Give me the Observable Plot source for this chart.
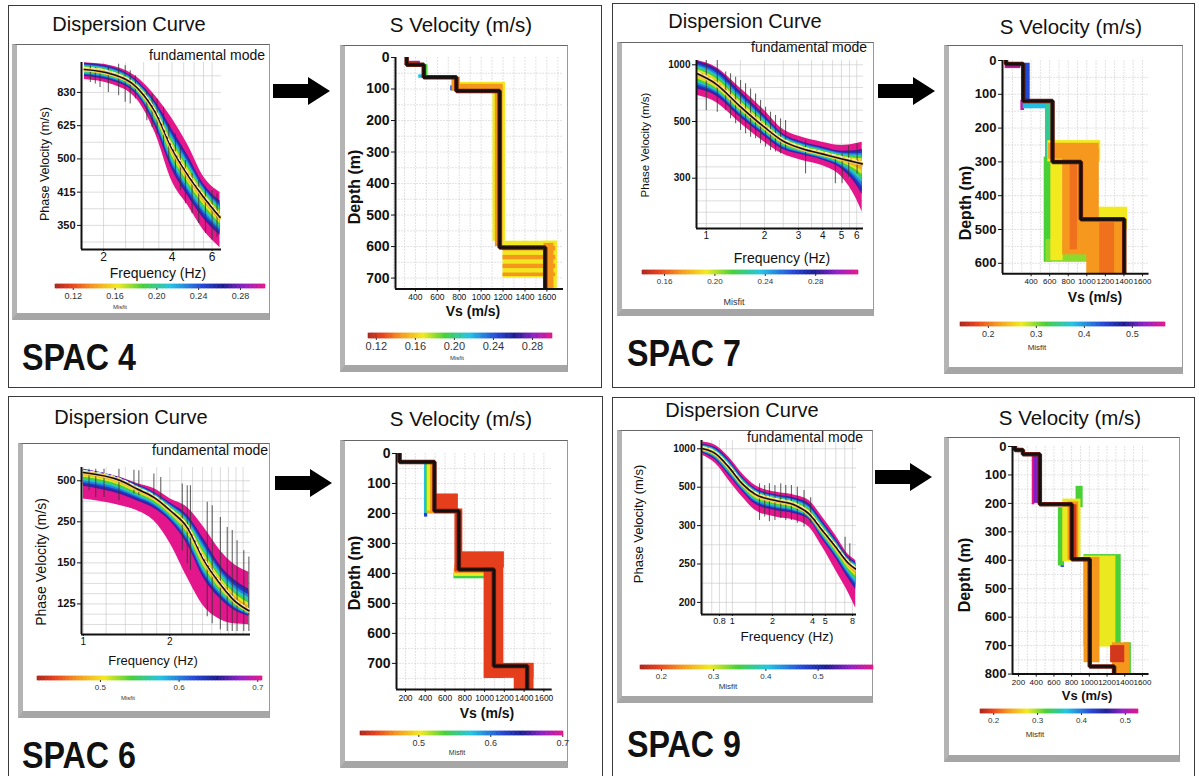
<!DOCTYPE html>
<html><head><meta charset="utf-8">
<script src="https://cdn.jsdelivr.net/npm/d3@7"></script>
<script src="https://cdn.jsdelivr.net/npm/@observablehq/plot@0.6"></script>
<style>
html,body{margin:0;padding:0;background:#fff;}
#root{position:relative;width:1199px;height:776px;overflow:hidden;background:#fff;font-family:"Liberation Sans",Arial,sans-serif;color:#111;}
.box{position:absolute;border:1px solid #3a3a3a;box-sizing:border-box;}
.card{position:absolute;box-sizing:border-box;background:#fff;border-top:1px solid #666;border-right:1px solid #999;border-left:5px solid #b4b4b4;border-bottom:7px solid #a6a6a6;}
.t{position:absolute;white-space:nowrap;line-height:1;}
.by g[aria-label="y-axis tick label"] text{font-weight:bold;}
</style></head>
<body><div id="root"></div>
<script>
// ===================== DATA =====================
// ---- SPAC 4 : dispersion (frequency Hz, phase velocity m/s) ----
const spac4Freq    = [1.65, 2.18, 2.8, 3.38, 4.0, 4.7, 5.5, 6.5];
const spac4Best    = [1082, 1020, 877, 694, 532, 455, 407, 370];
const spac4CoreHi  = [1185, 1125, 955, 770, 615, 515, 437, 402];
const spac4CoreLo  = [985, 935, 810, 615, 465, 405, 365, 340];
const spac4OuterHi = [1185, 1135, 985, 805, 660, 545, 452, 416];
const spac4OuterLo = [958, 905, 780, 590, 440, 390, 350, 326];
const spac4ErrFreq = [1.75,1.84,1.93,2.10,2.33,2.49,2.62,2.76,3.10,3.27,3.44,3.67,3.87,4.14,4.35,4.58,4.90,5.24,5.61,6.00,6.31];
const spac4ErrHi   = [1136,1111,1087,1111,1163,1136,1064,1000,847,820,781,725,633,588,538,495,459,442,427,420,413];
const spac4ErrLo   = [926,909,877,833,806,758,746,781,649,617,588,538,495,459,420,394,376,360,345,336,340];
const spac4PhaseTicks  = [1.2, 1.6, 2.0, 2.4, 2.8];          // slowness, ms/m
const spac4PhaseLabels = ["830", "625", "500", "415", "350"];
const spac4FreqTicks   = [2, 4, 6];
const spac4FreqLabels  = ["2", "4", "6"];
// ---- SPAC 4 : Vs profile ----
const spac4LayerTop = [0, 23, 63, 106, 603];
const spac4LayerVs  = [320, 476, 774, 1169, 1585];
// [Vs min, Vs max, top depth, bottom depth, misfit]
const spac4Blocks = [
  [330, 445, 12, 25, 0.29], [330, 420, 15, 25, 0.121],
  [470, 515, 23, 63, 0.19], [430, 480, 55, 66, 0.215],
  [722, 748, 90, 106, 0.24], [740, 775, 80, 106, 0.19],
  [780, 1222, 79, 106, 0.168], [734, 810, 63, 106, 0.146], [780, 1200, 85, 106, 0.146],
  [1108, 1222, 79, 583, 0.168], [1130, 1200, 90, 600, 0.146],
  [1200, 1695, 583, 700, 0.168],
  [1200, 1680, 600, 614, 0.146], [1200, 1680, 628, 642, 0.146], [1200, 1680, 656, 670, 0.146], [1200, 1680, 684, 695, 0.146],
  [1570, 1695, 583, 735, 0.168], [1575, 1665, 590, 735, 0.146]
];

// ---- SPAC 7 : dispersion ----
const spac7Freq    = [0.9, 1.12, 1.48, 2.0, 2.47, 3.13, 3.97, 5.03, 5.9, 6.4];
const spac7Best    = [863, 749, 582, 476, 428, 403, 389, 376, 368, 364];
const spac7CoreHi  = [1082, 960, 700, 535, 455, 425, 410, 398, 400, 405];
const spac7CoreLo  = [690, 640, 520, 440, 400, 385, 372, 350, 320, 300];
const spac7OuterHi = [1082, 960, 717, 554, 470, 439, 423, 413, 418, 423];
const spac7OuterLo = [649, 603, 497, 423, 389, 372, 360, 335, 300, 278];
const spac7ErrFreq = [1.0,1.14,1.26,1.335,1.418,1.504,1.596,1.694,1.798,1.908,2.025,2.149,2.28,2.42,2.57,3.26,4.65,5.04,5.45,6.02];
const spac7ErrHi   = [1118,1118,886,863,821,784,749,702,661,614,572,545,528,512,505,428,380,389,413,418];
const spac7ErrLo   = [554,545,554,512,490,463,451,439,434,418,408,398,394,389,398,342,323,323,335,342];
const spac7PhaseTicks  = [1, 2, 3];
const spac7PhaseLabels = ["1000", "500", "300"];
const spac7FreqTicks   = [1, 2, 3, 4, 5, 6];
const spac7FreqLabels  = ["1", "2", "3", "4", "5", "6"];
// ---- SPAC 7 : Vs profile ----
const spac7LayerTop = [0, 10, 120, 300, 470];
const spac7LayerVs  = [130, 315, 631, 936, 1403];
const spac7Blocks = [
  [120, 290, 12, 24, 0.55], [290, 330, 118, 148, 0.55],
  [315, 390, 8, 126, 0.44], [315, 640, 118, 143, 0.38],
  [555, 640, 120, 295, 0.35], [541, 630, 286, 597, 0.32],
  [560, 1060, 530, 597, 0.30],
  [580, 1150, 237, 300, 0.27], [613, 745, 280, 592, 0.27], [1130, 1440, 434, 500, 0.27],
  [590, 1133, 245, 292, 0.22], [740, 1135, 262, 575, 0.22], [1000, 1430, 470, 632, 0.22],
  [1140, 1300, 480, 632, 0.2], [820, 900, 300, 560, 0.2]
];

// ---- SPAC 6 : dispersion ----
const spac6Freq    = [1.0, 1.35, 1.54, 1.76, 2.01, 2.30, 2.63, 3.0, 3.34, 3.77];
const spac6Best    = [627, 500, 416, 356, 289, 234, 170, 142, 128, 120];
const spac6CoreHi  = [698, 540, 462, 395, 328, 276, 210, 165, 149, 139];
const spac6CoreLo  = [430, 366, 330, 296, 248, 194, 146, 128, 120, 116];
const spac6OuterHi = [698, 544, 470, 420, 346, 303, 234, 185, 165, 155];
const spac6OuterLo = [346, 311, 289, 253, 197, 149, 123, 114, 111.5, 111];
const spac6ErrFreq = [1.046,1.104,1.18,1.33,1.50,1.56,1.76,1.86,2.21,2.30,2.36,2.70,2.81,3.0,3.17,3.30,3.43,3.62,3.77];
const spac6ErrHi   = [698,698,698,698,675,660,597,544,463,446,446,328,311,264,234,226,203,185,175];
const spac6ErrLo   = [402,356,356,337,378,366,356,319,185,165,157,116,111.5,108,107,107,107,107,107];
const spac6PhaseTicks  = [2, 4, 6, 8];
const spac6PhaseLabels = ["500", "250", "150", "125"];
const spac6FreqTicks   = [1, 2];
const spac6FreqLabels  = ["1", "2"];
// ---- SPAC 6 : Vs profile ----
const spac6LayerTop = [0, 28, 192, 387, 709];
const spac6LayerVs  = [140, 493, 740, 1094, 1431];
const spac6Blocks = [
  [392, 425, 150, 212, 0.62], [392, 425, 28, 200, 0.575],
  [405, 450, 28, 198, 0.54], [690, 1000, 400, 418, 0.54],
  [420, 470, 28, 196, 0.505], [690, 1000, 385, 410, 0.505],
  [420, 740, 192, 202, 0.48],
  [455, 500, 28, 200, 0.47], [700, 1000, 370, 400, 0.47],
  [500, 735, 135, 200, 0.44], [700, 780, 185, 395, 0.44], [740, 1200, 328, 382, 0.44],
  [995, 1195, 330, 750, 0.44], [1010, 1500, 700, 750, 0.44], [1300, 1500, 700, 787, 0.44]
];

// ---- SPAC 9 : dispersion ----
const spac9Freq    = [0.60, 0.75, 0.94, 1.19, 1.49, 2.11, 2.99, 3.77, 4.75, 5.99, 7.55, 8.47];
const spac9Best    = [1000, 885, 677, 523, 457, 426, 404, 371, 320, 281, 250, 242];
const spac9CoreHi  = [1150, 1040, 790, 585, 495, 458, 440, 415, 350, 300, 262, 254];
const spac9CoreLo  = [890, 760, 585, 470, 405, 380, 368, 350, 296, 258, 225, 212];
const spac9OuterHi = [1211, 1095, 822, 606, 511, 470, 451, 426, 360, 307, 265, 256];
const spac9OuterLo = [852, 719, 548, 443, 384, 360, 349, 329, 281, 240, 209, 194];
const spac9ErrFreq = [1.60,1.75,1.90,2.09,2.31,2.52,2.78,3.08,3.46,3.88,7.04,7.64];
const spac9ErrHi   = [523,511,523,511,523,511,511,500,480,440,303,288];
const spac9ErrLo   = [349,360,345,349,355,349,349,340,329,340,256,250];
const spac9PhaseTicks  = [1, 2, 3, 4, 5];
const spac9PhaseLabels = ["1000", "500", "300", "250", "200"];
const spac9FreqTicks   = [0.8, 1, 2, 4, 5, 8];
const spac9FreqLabels  = ["0.8", "1", "2", "4", "5", "8"];
// ---- SPAC 9 : Vs profile ----
const spac9LayerTop = [0, 12, 27, 203, 396, 773];
const spac9LayerVs  = [160, 250, 441, 802, 1005, 1280];
const spac9Blocks = [
  [355, 385, 25, 205, 0.53], [375, 425, 25, 200, 0.49],
  [680, 720, 405, 425, 0.42],
  [650, 720, 215, 420, 0.32], [850, 930, 140, 215, 0.32], [940, 1360, 380, 700, 0.32], [1400, 1475, 690, 800, 0.32],
  [700, 905, 185, 405, 0.28], [940, 1300, 385, 705, 0.28],
  [760, 880, 195, 400, 0.235], [940, 1120, 390, 760, 0.235], [1260, 1460, 690, 800, 0.235],
  [790, 860, 205, 396, 0.19], [1240, 1400, 700, 760, 0.19]
];

// ---- colour bars (misfit) ----
const misfitTicksA = [0.12, 0.16, 0.20, 0.24, 0.28];
const misfitLabelsA = ["0.12", "0.16", "0.20", "0.24", "0.28"];
const misfitTicksB = [0.16, 0.20, 0.24, 0.28];
const misfitLabelsB = ["0.16", "0.20", "0.24", "0.28"];
const misfitTicksC = [0.2, 0.3, 0.4, 0.5];
const misfitLabelsC = ["0.2", "0.3", "0.4", "0.5"];
const misfitTicksD = [0.5, 0.6, 0.7];
const misfitLabelsD = ["0.5", "0.6", "0.7"];

// ===================== RENDER =====================
const FONT = '"Liberation Sans", Arial, sans-serif';
const root = document.getElementById("root");
const rainbowStops  = [0, 0.08, 0.18, 0.3, 0.42, 0.55, 0.7, 0.8, 0.9, 1];
const rainbowColors = ["#a8261c","#e8401c","#f5961d","#f2ea1f","#45cf38","#22c3e3","#2346d6","#1b1b8f","#8e1fc6","#e4168c"];
function misfitScale(lo, hi) {
  return {type: "linear", domain: rainbowStops.map(t => lo + t * (hi - lo)), range: rainbowColors, clamp: true};
}
function place(el, left, top) {
  el.style.position = "absolute"; el.style.left = left + "px"; el.style.top = top + "px";
  root.appendChild(el); return el;
}
function addDiv(cls, left, top, w, h) {
  const d = document.createElement("div"); d.className = cls;
  d.style.left = left + "px"; d.style.top = top + "px"; d.style.width = w + "px"; d.style.height = h + "px";
  root.appendChild(d);
}
function addText(txt, x, y, size, o = {}) {
  const d = document.createElement("div"); d.className = "t"; d.textContent = txt;
  d.style.left = x + "px"; d.style.top = y + "px"; d.style.fontSize = size + "px";
  const ax = o.anchor === "start" ? "0" : o.anchor === "end" ? "-100%" : "-50%";
  let tr = `translate(${ax},-50%)`;
  if (o.rotate) tr += ` rotate(${o.rotate}deg)`;
  if (o.sx) tr += ` scaleX(${o.sx})`;
  d.style.transform = tr;
  d.style.transformOrigin = o.anchor === "start" ? "left center" : "center center";
  if (o.bold) d.style.fontWeight = "bold";
  if (o.color) d.style.color = o.color;
  root.appendChild(d);
}
function arrow(x, y) {
  const d = document.createElement("div");
  d.innerHTML = '<svg width="58" height="30"><polygon points="0,8 35,8 35,1 57,15 35,29 35,22 0,22" fill="#000"/></svg>';
  place(d, x, y);
}

const BAND_LEVELS = [0.92, 0.8, 0.68, 0.56, 0.44, 0.32, 0.2, 0.09];
function dispersionPlot(c) {
  const [x0, y0, x1, y1] = c.frame;
  const mL = 44, mR = 6, mT = 4, mB = 20;
  const toS = v => 1000 / v;
  const rows = c.freq.map((f, i) => ({
    f, best: toS(c.best[i]), cHi: toS(c.coreHi[i]), cLo: toS(c.coreLo[i]),
    oHi: toS(c.outerHi[i]), oLo: toS(c.outerLo[i])
  }));
  const errs = c.errFreq.map((f, i) => ({f, s1: toS(c.errHi[i]), s2: toS(c.errLo[i])}));
  const [lo, hi] = c.misfit;
  const curve = "monotone-x";
  const bands = BAND_LEVELS.map(fr => Plot.areaY(rows, {
    x: "f",
    y1: d => d.best + fr * (d.cLo - d.best),
    y2: d => d.best + fr * (d.cHi - d.best),
    fill: () => lo + (0.04 + 0.86 * fr) * (hi - lo),
    curve, clip: true
  }));
  const svg = Plot.plot({
    width: x1 - x0 + mL + mR, height: y1 - y0 + mT + mB,
    marginLeft: mL, marginRight: mR, marginTop: mT, marginBottom: mB,
    className: "by",
    style: {fontFamily: FONT, background: "transparent", overflow: "visible", color: "#111"},
    x: {type: "log", domain: c.xDomain},
    y: {type: "linear", domain: [c.sBottom, c.sTop]},
    color: misfitScale(lo, hi),
    marks: [
      Plot.gridX({ticks: c.gridF, stroke: "#c4c4c4", strokeOpacity: 1, strokeWidth: 0.6}),
      Plot.gridY({ticks: c.gridS, stroke: "#c4c4c4", strokeOpacity: 1, strokeWidth: 0.6}),
      Plot.areaY(rows, {x: "f", y1: "oLo", y2: "oHi", fill: () => hi, curve, clip: true}),
      ...bands,
      Plot.ruleX(errs, {x: "f", y1: "s1", y2: "s2", stroke: "#333", strokeWidth: 1.1, strokeOpacity: 0.75, clip: true}),
      Plot.line(rows, {x: "f", y: "best", stroke: "#f6c85f", strokeWidth: 4, curve, clip: true}),
      Plot.line(rows, {x: "f", y: "best", stroke: "#111", strokeWidth: 1.6, curve, clip: true}),
      Plot.line(rows, {x: "f", y: "best", stroke: "#fff", strokeWidth: 0.9, strokeDasharray: "4,3", dy: -2.2, curve, clip: true}),
      Plot.axisY({ticks: c.tickS, tickFormat: d => c.tickSLabels[c.tickS.indexOf(d)], tickSize: 4, tickPadding: 2, fontSize: c.yFont, fontWeight: "bold", label: null}),
      Plot.axisX({ticks: c.tickF, tickFormat: d => c.tickFLabels[c.tickF.indexOf(d)], tickSize: 2, tickPadding: 1, fontSize: c.xFont, label: null}),
      Plot.ruleX([c.xDomain[0]], {stroke: "#111", strokeWidth: 2}),
      Plot.ruleY([c.sBottom], {stroke: "#111", strokeWidth: 2})
    ]
  });
  place(svg, x0 - mL, y0 - mT);
}

function profilePlot(c) {
  const [x0, y0, x1, y1] = c.frame;
  const mL = 40, mR = 4, mT = 10, mB = 16;
  const blocks = c.blocks.map(b => ({v1: b[0], v2: b[1], d1: b[2], d2: b[3], m: b[4]})).sort((a, b) => b.m - a.m);
  const path = [];
  c.tops.forEach((t, i) => {
    const b = i + 1 < c.tops.length ? c.tops[i + 1] : c.dMax;
    path.push({v: c.vs[i], d: t}, {v: c.vs[i], d: b});
  });
  const svg = Plot.plot({
    width: x1 - x0 + mL + mR, height: y1 - y0 + mT + mB,
    marginLeft: mL, marginRight: mR, marginTop: mT, marginBottom: mB,
    className: "by",
    style: {fontFamily: FONT, background: "transparent", overflow: "visible", color: "#111"},
    x: {domain: c.vDomain},
    y: {domain: [0, c.dMax], reverse: true},
    color: misfitScale(c.misfit[0], c.misfit[1]),
    marks: [
      Plot.gridX({ticks: d3.range(200, c.vDomain[1], 100), stroke: "#cfcfcf", strokeOpacity: 1, strokeWidth: 0.6, strokeDasharray: "2,1"}),
      Plot.gridY({ticks: d3.range(50, c.dMax, 50), stroke: "#cfcfcf", strokeOpacity: 1, strokeWidth: 0.6, strokeDasharray: "2,1"}),
      Plot.rect(blocks, {x1: "v1", x2: "v2", y1: "d1", y2: "d2", fill: "m", clip: true}),
      Plot.line(path, {x: "v", y: "d", stroke: "#6b1a0e", strokeWidth: 4.5, strokeLinejoin: "miter", clip: true}),
      Plot.line(path, {x: "v", y: "d", stroke: "#111", strokeWidth: 2.6, strokeLinejoin: "miter", clip: true}),
      Plot.axisY({ticks: c.tickD, tickFormat: d => String(d), tickSize: 4, tickPadding: 2, fontSize: c.yFont, fontWeight: "bold", label: null}),
      Plot.axisX({ticks: c.tickV, tickFormat: d => String(d), tickSize: 3, tickPadding: 2, fontSize: c.xFont, label: null}),
      Plot.ruleX([c.vDomain[0]], {stroke: "#111", strokeWidth: 2}),
      Plot.ruleY([c.dMax], {stroke: "#111", strokeWidth: 2})
    ]
  });
  place(svg, x0 - mL, y0 - mT);
}

function colorbar(c) {
  const pad = 16, h = c.h;
  const n = 160;
  const segs = d3.range(n).map(i => ({a: c.lo + i * (c.hi - c.lo) / n, b: c.lo + (i + 1) * (c.hi - c.lo) / n}));
  const svg = Plot.plot({
    width: c.x1 - c.x0 + 2 * pad, height: h + c.fs + 6,
    marginLeft: pad, marginRight: pad, marginTop: 0, marginBottom: c.fs + 6,
    style: {fontFamily: FONT, background: "transparent", overflow: "visible", color: "#333"},
    x: {domain: [c.lo, c.hi]},
    y: {domain: [0, 1], axis: null},
    color: misfitScale(c.lo, c.hi),
    marks: [
      Plot.rect(segs, {x1: "a", x2: "b", y1: 0, y2: 1, fill: d => (d.a + d.b) / 2, stroke: d => (d.a + d.b) / 2, strokeWidth: 0.6}),
      Plot.axisX({ticks: c.ticks, tickFormat: d => c.labels[c.ticks.indexOf(d)], tickSize: 2, tickPadding: 2, fontSize: c.fs, label: null})
    ]
  });
  place(svg, c.x0 - pad, c.y);
  addText("Misfit", c.mx, c.my, c.mfs, {color: "#333"});
}

// ---- frames ----
addDiv("box", 8, 5, 594, 383);
addDiv("box", 612, 3, 583, 385);
addDiv("box", 8, 396, 595, 395);
addDiv("box", 612, 397, 583, 395);
addDiv("card", 12, 44, 258, 276);
addDiv("card", 340, 45, 228, 327);
addDiv("card", 617, 42, 257, 274);
addDiv("card", 944, 45, 239, 329);
addDiv("card", 18, 443, 252, 275);
addDiv("card", 340, 440, 228, 328);
addDiv("card", 617, 430, 256, 273);
addDiv("card", 944, 437, 236, 325);

// ---- titles ----
addText("Dispersion Curve", 129, 24, 20);
addText("S Velocity (m/s)", 461, 25, 20.5);
addText("Dispersion Curve", 745, 21, 20);
addText("S Velocity (m/s)", 1071, 27, 20.5);
addText("Dispersion Curve", 131, 417, 20);
addText("S Velocity (m/s)", 461, 419, 20.5);
addText("Dispersion Curve", 742, 410, 20);
addText("S Velocity (m/s)", 1070, 418, 20.5);
addText("SPAC 4", 22, 357, 37, {bold: true, anchor: "start", sx: 0.87});
addText("SPAC 7", 627, 353, 37, {bold: true, anchor: "start", sx: 0.87});
addText("SPAC 6", 22, 755, 37, {bold: true, anchor: "start", sx: 0.87});
addText("SPAC 9", 627, 744, 37, {bold: true, anchor: "start", sx: 0.87});
arrow(273, 76); arrow(878, 76); arrow(275, 468); arrow(875, 462);

// ---- dispersion plots ----
dispersionPlot({frame: [81, 62, 221, 249], xDomain: [1.6, 6.6], sTop: 0.84, sBottom: 3.09,
  freq: spac4Freq, best: spac4Best, coreHi: spac4CoreHi, coreLo: spac4CoreLo, outerHi: spac4OuterHi, outerLo: spac4OuterLo,
  errFreq: spac4ErrFreq, errHi: spac4ErrHi, errLo: spac4ErrLo, misfit: [0.103, 0.304],
  tickS: spac4PhaseTicks, tickSLabels: spac4PhaseLabels, tickF: spac4FreqTicks, tickFLabels: spac4FreqLabels,
  gridF: [2, 2.5, 3, 3.5, 4, 4.5, 5, 5.5, 6], gridS: d3.range(1.0, 3.05, 0.2), yFont: 11, xFont: 12});
dispersionPlot({frame: [696, 60, 863, 228], xDomain: [0.89, 6.5], sTop: 0.924, sBottom: 3.887,
  freq: spac7Freq, best: spac7Best, coreHi: spac7CoreHi, coreLo: spac7CoreLo, outerHi: spac7OuterHi, outerLo: spac7OuterLo,
  errFreq: spac7ErrFreq, errHi: spac7ErrHi, errLo: spac7ErrLo, misfit: [0.1425, 0.314],
  tickS: spac7PhaseTicks, tickSLabels: spac7PhaseLabels, tickF: spac7FreqTicks, tickFLabels: spac7FreqLabels,
  gridF: [1, 1.5, 2, 2.5, 3, 3.5, 4, 4.5, 5, 5.5, 6], gridS: d3.range(1.0, 3.85, 0.2), yFont: 10, xFont: 10});
dispersionPlot({frame: [81, 467, 250, 634], xDomain: [0.985, 3.82], sTop: 1.353, sBottom: 9.49,
  freq: spac6Freq, best: spac6Best, coreHi: spac6CoreHi, coreLo: spac6CoreLo, outerHi: spac6OuterHi, outerLo: spac6OuterLo,
  errFreq: spac6ErrFreq, errHi: spac6ErrHi, errLo: spac6ErrLo, misfit: [0.42, 0.706],
  tickS: spac6PhaseTicks, tickSLabels: spac6PhaseLabels, tickF: spac6FreqTicks, tickFLabels: spac6FreqLabels,
  gridF: d3.range(1.0, 3.7, 0.2), gridS: d3.range(2, 9.3, 0.5), yFont: 11, xFont: 10});
dispersionPlot({frame: [701, 440, 856, 614], xDomain: [0.586, 8.58], sTop: 0.784, sBottom: 5.315,
  freq: spac9Freq, best: spac9Best, coreHi: spac9CoreHi, coreLo: spac9CoreLo, outerHi: spac9OuterHi, outerLo: spac9OuterLo,
  errFreq: spac9ErrFreq, errHi: spac9ErrHi, errLo: spac9ErrLo, misfit: [0.16, 0.606],
  tickS: spac9PhaseTicks, tickSLabels: spac9PhaseLabels, tickF: spac9FreqTicks, tickFLabels: spac9FreqLabels,
  gridF: [0.6, 0.7, 0.8, 0.9, 1, 1.5, 2, 2.5, 3, 3.5, 4, 5, 6, 7, 8], gridS: d3.range(1, 5.3, 0.5), yFont: 10, xFont: 9});

// ---- profile plots ----
profilePlot({frame: [395, 56.7, 563, 288.3], vDomain: [218, 1752], dMax: 735, misfit: [0.112, 0.3005],
  tops: spac4LayerTop, vs: spac4LayerVs, blocks: spac4Blocks,
  tickD: d3.range(0, 701, 100), tickV: d3.range(400, 1601, 200), yFont: 14, xFont: 8.5});
profilePlot({frame: [1001.7, 60, 1148.3, 273.3], vDomain: [92, 1671], dMax: 631, misfit: [0.142, 0.569],
  tops: spac7LayerTop, vs: spac7LayerVs, blocks: spac7Blocks,
  tickD: d3.range(0, 601, 100), tickV: d3.range(400, 1601, 200), yFont: 13, xFont: 8});
profilePlot({frame: [396, 453.3, 551.7, 689.3], vDomain: [109, 1684], dMax: 787, misfit: [0.419, 0.701],
  tops: spac6LayerTop, vs: spac6LayerVs, blocks: spac6Blocks,
  tickD: d3.range(0, 701, 100), tickV: d3.range(200, 1601, 200), yFont: 14, xFont: 8.5});
profilePlot({frame: [1011.7, 445.7, 1148.3, 673.3], vDomain: [132, 1675], dMax: 800, misfit: [0.17, 0.53],
  tops: spac9LayerTop, vs: spac9LayerVs, blocks: spac9Blocks,
  tickD: d3.range(0, 801, 100), tickV: d3.range(200, 1601, 200), yFont: 13, xFont: 8});

// ---- colour bars ----
colorbar({x0: 55, x1: 265, y: 284, h: 4, lo: 0.103, hi: 0.304, ticks: misfitTicksA, labels: misfitLabelsA, fs: 9, mx: 120, my: 307, mfs: 6});
colorbar({x0: 368, x1: 552, y: 333, h: 5, lo: 0.112, hi: 0.3005, ticks: misfitTicksA, labels: misfitLabelsA, fs: 11, mx: 457, my: 358, mfs: 6});
colorbar({x0: 642, x1: 858, y: 270, h: 4, lo: 0.1425, hi: 0.314, ticks: misfitTicksB, labels: misfitLabelsB, fs: 8, mx: 734, my: 302, mfs: 9});
colorbar({x0: 960, x1: 1165, y: 322, h: 4, lo: 0.142, hi: 0.569, ticks: misfitTicksC, labels: misfitLabelsC, fs: 9, mx: 1037, my: 348, mfs: 8});
colorbar({x0: 37, x1: 262, y: 676, h: 4, lo: 0.42, hi: 0.706, ticks: misfitTicksD, labels: misfitLabelsD, fs: 8, mx: 128, my: 698, mfs: 6});
colorbar({x0: 360, x1: 563, y: 731, h: 4, lo: 0.419, hi: 0.701, ticks: misfitTicksD, labels: misfitLabelsD, fs: 9, mx: 457, my: 752, mfs: 7});
colorbar({x0: 640, x1: 873, y: 665, h: 4, lo: 0.16, hi: 0.606, ticks: misfitTicksC, labels: misfitLabelsC, fs: 8, mx: 728, my: 687, mfs: 8});
colorbar({x0: 980, x1: 1138, y: 709, h: 4, lo: 0.17, hi: 0.53, ticks: misfitTicksC, labels: misfitLabelsC, fs: 8, mx: 1035, my: 735, mfs: 8});

// ---- axis titles & annotations ----
addText("fundamental mode", 265, 55, 14, {anchor: "end"});
addText("fundamental mode", 867, 47, 14, {anchor: "end"});
addText("fundamental mode", 268, 450, 14, {anchor: "end"});
addText("fundamental mode", 863, 437, 14, {anchor: "end"});
addText("Phase Velocity (m/s)", 45, 164, 12.5, {rotate: -90});
addText("Phase Velocity (m/s)", 646, 145, 11.5, {rotate: -90});
addText("Phase Velocity (m/s)", 41, 562, 14, {rotate: -90});
addText("Phase Velocity (m/s)", 638, 524, 13, {rotate: -90});
addText("Frequency (Hz)", 158, 273, 14);
addText("Frequency (Hz)", 782, 258, 14);
addText("Frequency (Hz)", 153, 660, 13);
addText("Frequency (Hz)", 787, 637, 13.5);
addText("Depth (m)", 355, 187, 16, {rotate: -90, bold: true});
addText("Depth (m)", 966, 203, 16, {rotate: -90, bold: true});
addText("Depth (m)", 355, 573, 16, {rotate: -90, bold: true});
addText("Depth (m)", 965, 575, 16, {rotate: -90, bold: true});
addText("Vs (m/s)", 473, 311, 14, {bold: true});
addText("Vs (m/s)", 1095, 297, 14, {bold: true});
addText("Vs (m/s)", 487, 713, 14, {bold: true});
addText("Vs (m/s)", 1087, 695, 13, {bold: true});
</script>
</body></html>
